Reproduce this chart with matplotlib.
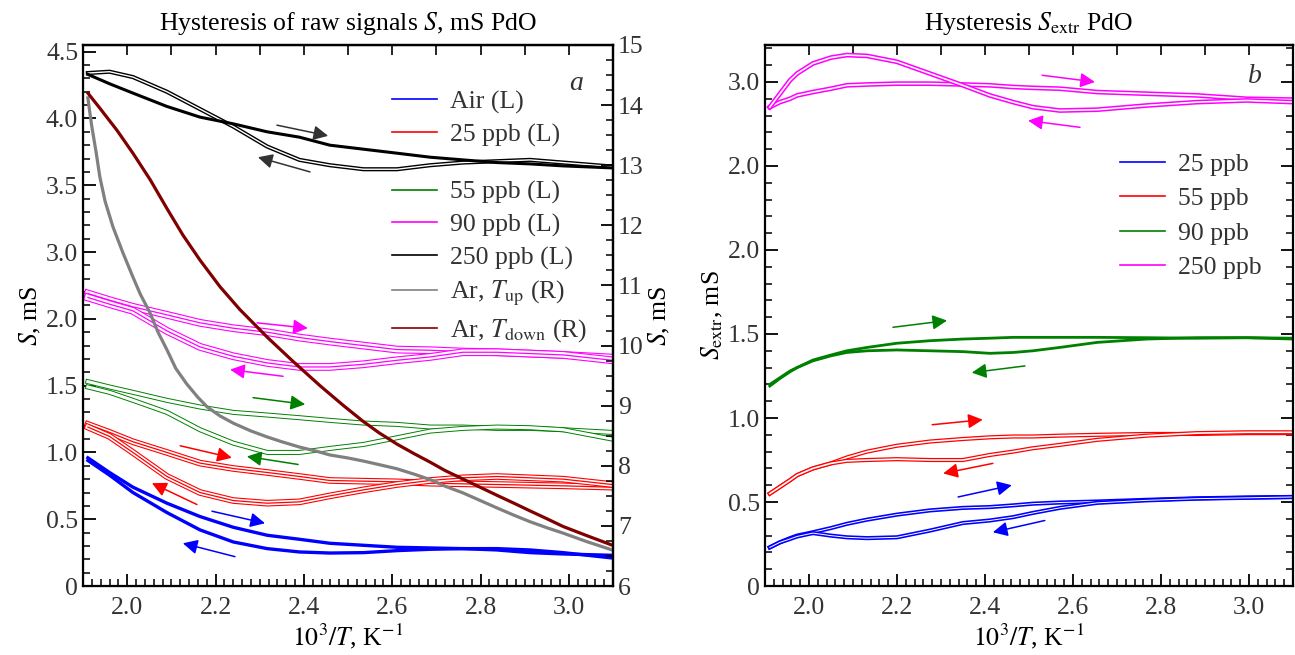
import matplotlib
matplotlib.use("Agg")
import matplotlib.pyplot as plt
from matplotlib.lines import Line2D
from matplotlib.ticker import MultipleLocator, FixedLocator, FixedFormatter, NullFormatter, NullLocator

plt.rcParams['font.family'] = ['Liberation Serif', 'DejaVu Serif']
plt.rcParams['mathtext.fontset'] = 'stix'
FS = 18.5
plt.rcParams['font.size'] = FS

# ---------------- panel a: raw signals (left axis, axis units as drawn) ----------------
xL = [1.911, 1.96, 2.013, 2.09, 2.165, 2.24, 2.317, 2.39, 2.459, 2.535, 2.611,
      2.686, 2.76, 2.837, 2.912, 2.987, 3.098]

air_up = [0.96, 0.85, 0.74, 0.62, 0.52, 0.44, 0.38, 0.35, 0.32, 0.305, 0.29,
          0.285, 0.28, 0.27, 0.25, 0.24, 0.23]
air_dn = [0.94, 0.83, 0.70, 0.55, 0.42, 0.33, 0.28, 0.255, 0.247, 0.25, 0.265,
          0.275, 0.28, 0.28, 0.27, 0.25, 0.21]

p25_up = [1.21, 1.15, 1.08, 1.00, 0.92, 0.88, 0.85, 0.82, 0.79, 0.785, 0.78,
          0.77, 0.765, 0.76, 0.755, 0.75, 0.74]
p25_dn = [1.19, 1.12, 1.00, 0.82, 0.70, 0.64, 0.62, 0.63, 0.675, 0.72, 0.76,
          0.79, 0.81, 0.82, 0.81, 0.80, 0.76]

p55_up = [1.53, 1.49, 1.45, 1.39, 1.34, 1.30, 1.28, 1.26, 1.24, 1.22, 1.21,
          1.19, 1.19, 1.18, 1.18, 1.17, 1.15]
p55_dn = [1.49, 1.45, 1.39, 1.30, 1.17, 1.07, 1.00, 1.00, 1.03, 1.06, 1.11,
          1.16, 1.18, 1.19, 1.185, 1.17, 1.10]

p90_up = [2.19, 2.14, 2.09, 2.03, 1.97, 1.93, 1.90, 1.86, 1.83, 1.80, 1.77,
          1.765, 1.755, 1.75, 1.74, 1.73, 1.71]
p90_dn = [2.16, 2.11, 2.06, 1.91, 1.79, 1.72, 1.67, 1.64, 1.64, 1.66, 1.69,
          1.715, 1.75, 1.75, 1.74, 1.73, 1.69]

p250_a = [3.83, 3.76, 3.69, 3.59, 3.51, 3.46, 3.40, 3.36, 3.30, 3.27, 3.24,
          3.21, 3.19, 3.17, 3.16, 3.145, 3.13]
p250_b = [3.84, 3.85, 3.81, 3.70, 3.57, 3.44, 3.29, 3.19, 3.15, 3.12, 3.12,
          3.15, 3.17, 3.18, 3.19, 3.17, 3.14]

# argon runs, right axis
x_ar_up = [1.911, 1.915, 1.920, 1.930, 1.938, 1.950, 1.968, 1.990, 2.013, 2.030,
           2.052, 2.070, 2.090, 2.110, 2.135, 2.160, 2.181, 2.210, 2.240, 2.280,
           2.317, 2.350, 2.391, 2.430, 2.459, 2.500, 2.534, 2.570, 2.611, 2.650,
           2.686, 2.720, 2.760, 2.800, 2.837, 2.875, 2.912, 2.950, 2.987, 3.040, 3.098]
ar_up = [14.12, 13.90, 13.64, 13.20, 12.81, 12.40, 11.97, 11.55, 11.14, 10.85,
         10.54, 10.22, 9.93, 9.62, 9.36, 9.14, 8.98, 8.83, 8.71, 8.58,
         8.48, 8.40, 8.31, 8.24, 8.18, 8.13, 8.08, 8.02, 7.95, 7.86,
         7.77, 7.66, 7.55, 7.42, 7.30, 7.18, 7.07, 6.97, 6.88, 6.74, 6.60]
x_ar_dn = [1.911, 1.938, 1.977, 2.013, 2.052, 2.090, 2.126, 2.165, 2.210, 2.255,
           2.317, 2.375, 2.437, 2.490, 2.534, 2.570, 2.611, 2.650, 2.686, 2.720,
           2.760, 2.800, 2.837, 2.875, 2.912, 2.950, 2.987, 3.040, 3.098]
ar_dn = [14.20, 13.95, 13.58, 13.20, 12.76, 12.28, 11.84, 11.42, 10.98, 10.60,
         10.14, 9.74, 9.33, 9.00, 8.74, 8.55, 8.36, 8.20, 8.06, 7.92,
         7.78, 7.64, 7.51, 7.38, 7.25, 7.12, 6.99, 6.84, 6.68]

# arrows (colour, x0, y0, x1, y1)
arrows_a = [
    ('#0000ff', 2.192, 0.56, 2.312, 0.47), ('#0000ff', 2.244, 0.22, 2.126, 0.32),
    ('#ff0000', 2.120, 1.05, 2.237, 0.96), ('#ff0000', 2.158, 0.61, 2.056, 0.77),
    ('#008000', 2.285, 1.41, 2.403, 1.36), ('#008000', 2.387, 0.91, 2.271, 0.97),
    ('#ff00ff', 2.294, 1.97, 2.409, 1.93), ('#ff00ff', 2.353, 1.57, 2.233, 1.62),
    ('#333333', 2.339, 3.45, 2.455, 3.37), ('#333333', 2.414, 3.10, 2.296, 3.21),
]

# ---------------- panel b: extracted signal ----------------
xR = [1.911, 1.934, 1.957, 1.973, 2.009, 2.05, 2.086, 2.132, 2.20, 2.275, 2.35,
      2.411, 2.464, 2.509, 2.57, 2.655, 2.768, 2.882, 2.995, 3.10]

e25_up = [0.23, 0.26, 0.285, 0.30, 0.32, 0.345, 0.37, 0.395, 0.425, 0.45, 0.465,
          0.47, 0.48, 0.49, 0.497, 0.503, 0.513, 0.522, 0.527, 0.53]
e25_dn = [0.23, 0.26, 0.28, 0.295, 0.315, 0.30, 0.29, 0.285, 0.29, 0.33, 0.375,
          0.39, 0.41, 0.435, 0.465, 0.495, 0.51, 0.52, 0.525, 0.53]

e55_up = [0.55, 0.59, 0.63, 0.66, 0.70, 0.73, 0.765, 0.80, 0.835, 0.86, 0.875,
          0.885, 0.89, 0.89, 0.895, 0.90, 0.905, 0.905, 0.91, 0.91]
e55_dn = [0.55, 0.59, 0.63, 0.66, 0.70, 0.73, 0.745, 0.75, 0.755, 0.75, 0.75,
          0.78, 0.80, 0.82, 0.84, 0.87, 0.895, 0.91, 0.915, 0.915]

e90_up = [1.20, 1.24, 1.28, 1.30, 1.345, 1.375, 1.40, 1.42, 1.445, 1.46, 1.47,
          1.475, 1.48, 1.48, 1.48, 1.48, 1.478, 1.475, 1.478, 1.475]
e90_dn = [1.19, 1.235, 1.275, 1.30, 1.34, 1.37, 1.39, 1.40, 1.405, 1.40, 1.395,
          1.385, 1.39, 1.40, 1.42, 1.45, 1.47, 1.478, 1.478, 1.47]

e250_up = [2.85, 2.88, 2.90, 2.92, 2.94, 2.96, 2.98, 2.985, 2.99, 2.99, 2.985,
           2.98, 2.97, 2.965, 2.96, 2.94, 2.93, 2.92, 2.90, 2.895]
e250_dn = [2.85, 2.93, 3.01, 3.05, 3.11, 3.145, 3.16, 3.155, 3.12, 3.05, 2.98,
           2.92, 2.88, 2.85, 2.83, 2.835, 2.86, 2.88, 2.89, 2.88]

arrows_b = [
    ('#ff00ff', 2.530, 3.04, 2.650, 3.00), ('#ff00ff', 2.616, 2.73, 2.498, 2.77),
    ('#008000', 2.191, 1.54, 2.314, 1.58), ('#008000', 2.491, 1.31, 2.370, 1.27),
    ('#ff0000', 2.280, 0.96, 2.395, 0.99), ('#ff0000', 2.418, 0.73, 2.305, 0.67),
    ('#0000ff', 2.339, 0.53, 2.461, 0.60), ('#0000ff', 2.536, 0.39, 2.418, 0.32),
]


def bundle(ax, x, y, c, w, gap, core=0.0):
    # several repeated cycles drawn as a banded line
    ax.plot(x, y, color=c, lw=w, solid_joinstyle='round')
    ax.plot(x, y, color='white', lw=gap, solid_joinstyle='round')
    if core > 0:
        ax.plot(x, y, color=c, lw=core)


def draw_arrows(ax, arrows):
    for c, x0, y0, x1, y1 in arrows:
        ax.annotate('', xy=(x1, y1), xytext=(x0, y0),
                    arrowprops=dict(arrowstyle='-|>', color=c, lw=1.1,
                                    mutation_scale=22, shrinkA=0, shrinkB=0))


def style_x(ax):
    ax.set_xlim(1.9, 3.1)
    ax.xaxis.set_minor_locator(MultipleLocator(0.02))
    ax.set_xticks([2.0, 2.2, 2.4, 2.6, 2.8, 3.0])
    ax.set_xticklabels(['2.0', '2.2', '2.4', '2.6', '2.8', '3.0'])
    ax.tick_params(axis='x', which='major', direction='in', length=9, width=1.3,
                   top=False, labelsize=FS, labelcolor='#333333', pad=8)
    ax.tick_params(axis='x', which='minor', direction='in', length=5, width=1.1, top=False)
    sec = ax.secondary_xaxis('top')
    sec.xaxis.set_major_locator(MultipleLocator(0.1))
    sec.xaxis.set_minor_locator(NullLocator())
    sec.xaxis.set_major_formatter(NullFormatter())
    sec.tick_params(direction='in', length=7, width=1.2)
    sec.spines['top'].set_linewidth(1.6)
    ax.set_xlabel('$10^3/T$, K$^{-1}$', fontsize=FS, labelpad=2)
    for s in ax.spines.values():
        s.set_linewidth(1.6)


fig = plt.figure(figsize=(12.95, 6.55), dpi=100)
ax = fig.add_axes([0.0641, 0.1053, 0.4093, 0.826])
axb = fig.add_axes([0.5907, 0.1053, 0.4077, 0.826])

# ---- panel a
bundle(ax, xL, p90_up, '#ff00ff', 5.6, 4.0, 0.9)
bundle(ax, xL, p90_dn, '#ff00ff', 5.6, 4.0, 0.9)
bundle(ax, xL, p55_up, '#008000', 3.6, 2.2)
bundle(ax, xL, p55_dn, '#008000', 3.6, 2.2)
bundle(ax, xL, p25_up, '#ff0000', 4.8, 3.2, 0.9)
bundle(ax, xL, p25_dn, '#ff0000', 4.8, 3.2, 0.9)
ax.plot(xL, air_up, color='#0000ff', lw=2.4)
ax.plot(xL, air_dn, color='#0000ff', lw=2.4)
bundle(ax, xL, p250_b, 'black', 3.0, 1.0)
ax.plot(xL, p250_a, color='black', lw=2.2)
draw_arrows(ax, arrows_a)

ax.set_ylim(0, 4.05)
ax.yaxis.set_major_locator(FixedLocator([0, 0.5, 1.0, 1.5, 2.0, 2.5, 3.0, 3.5, 4.0]))
ax.yaxis.set_major_formatter(FixedFormatter(['0', '0.5', '1.0', '1.5', '2.0', '3.0', '3.5', '4.0', '4.5']))
ax.yaxis.set_minor_locator(MultipleLocator(0.1))
ax.tick_params(axis='y', which='major', direction='in', length=9, width=1.3,
               right=False, labelsize=FS, labelcolor='#333333')
ax.tick_params(axis='y', which='minor', direction='in', length=5, width=1.1, right=False)
ax.set_ylabel('$S$, mS', fontsize=FS, labelpad=2)
style_x(ax)

ax2 = ax.twinx()
ax2.plot(x_ar_up, ar_up, color='#808080', lw=2.3)
ax2.plot(x_ar_dn, ar_dn, color='#800000', lw=2.3)
ax2.set_ylim(6, 15)
ax2.yaxis.set_major_locator(MultipleLocator(1))
ax2.yaxis.set_minor_locator(MultipleLocator(0.25))
ax2.tick_params(axis='y', which='major', direction='in', length=9, width=1.3,
                labelsize=FS, labelcolor='#333333')
ax2.tick_params(axis='y', which='minor', direction='in', length=5, width=1.1)
ax2.set_ylabel('$S$, mS', fontsize=FS, labelpad=2)
ax2.spines['right'].set_linewidth(1.6)

leg_names1 = ['Air (L)', '25 ppb (L)']
leg_cols1 = ['#0000ff', '#ff0000']
leg_names2 = ['55 ppb (L)', '90 ppb (L)', '250 ppb (L)',
              r'Ar, $T_{\mathrm{up}}$ (R)', r'Ar, $T_{\mathrm{down}}$ (R)']
leg_cols2 = ['#008000', '#ff00ff', 'black', '#808080', '#800000']
lg_kw = dict(frameon=False, fontsize=FS, handlelength=1.75, handletextpad=0.5,
             borderpad=0, borderaxespad=0, labelspacing=0.36, loc='upper left',
             labelcolor='#333333')
l1 = ax2.legend([Line2D([], [], color=c, lw=1.2) for c in leg_cols1], leg_names1,
                bbox_to_anchor=(0.583, 0.916), **lg_kw)
ax2.add_artist(l1)
ax2.legend([Line2D([], [], color=c, lw=1.2) for c in leg_cols2], leg_names2,
           bbox_to_anchor=(0.583, 0.749), **lg_kw)
ax.text(0.93, 0.928, 'a', transform=ax.transAxes, fontsize=20, style='italic',
        ha='center', va='center', color='#333333')
ax.set_title('Hysteresis of raw signals $S$, mS PdO', fontsize=FS, pad=11)

# ---- panel b
bundle(axb, xR, e250_up, '#ff00ff', 3.4, 1.2)
bundle(axb, xR, e250_dn, '#ff00ff', 3.4, 1.2)
axb.plot(xR, e90_up, color='#008000', lw=2.0)
axb.plot(xR, e90_dn, color='#008000', lw=2.0)
bundle(axb, xR, e55_up, '#ff0000', 3.0, 1.2)
bundle(axb, xR, e55_dn, '#ff0000', 3.0, 1.2)
bundle(axb, xR, e25_up, '#0000ff', 3.0, 0.7)
bundle(axb, xR, e25_dn, '#0000ff', 3.0, 0.7)
draw_arrows(axb, arrows_b)

axb.set_ylim(0, 3.22)
axb.yaxis.set_major_locator(FixedLocator([0, 0.5, 1.0, 1.5, 2.0, 2.5, 3.0]))
axb.yaxis.set_major_formatter(FixedFormatter(['0', '0.5', '1.0', '1.5', '2.0', '2.0', '3.0']))
axb.yaxis.set_minor_locator(MultipleLocator(0.1))
axb.tick_params(axis='y', which='major', direction='in', length=9, width=1.3,
                right=True, labelsize=FS, labelcolor='#333333')
axb.tick_params(axis='y', which='minor', direction='in', length=5, width=1.1, right=True)
axb.set_ylabel(r'$S_{\mathrm{extr}}$, mS', fontsize=FS, labelpad=2)
style_x(axb)

leg_names_b = ['25 ppb', '55 ppb', '90 ppb', '250 ppb']
leg_cols_b = ['#0000ff', '#ff0000', '#008000', '#ff00ff']
axb.legend([Line2D([], [], color=c, lw=1.2) for c in leg_cols_b], leg_names_b,
           frameon=False, fontsize=FS, handlelength=1.75, handletextpad=0.5,
           borderpad=0, borderaxespad=0, labelspacing=0.44, loc='upper left',
           bbox_to_anchor=(0.672, 0.800), labelcolor='#333333')
axb.text(0.928, 0.941, 'b', transform=axb.transAxes, fontsize=20, style='italic',
         ha='center', va='center', color='#333333')
axb.set_title(r'Hysteresis $S_{\mathrm{extr}}$ PdO', fontsize=FS, pad=11)

fig.savefig('out.png', dpi=100)
